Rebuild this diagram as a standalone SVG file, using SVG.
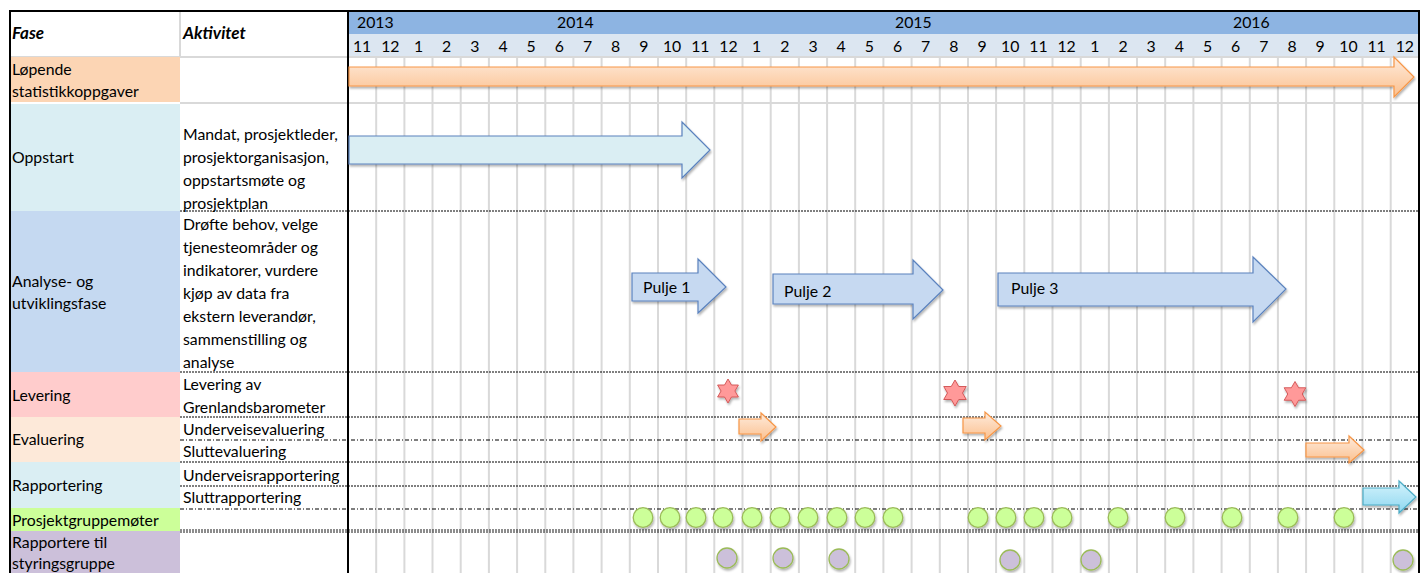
<svg xmlns="http://www.w3.org/2000/svg" width="1424" height="573" viewBox="0 0 1424 573">
<style>
text{font-family:Lato,"Open Sans","Liberation Sans",sans-serif;font-size:15.8px;fill:#000}
.hd{font-weight:bold;font-style:italic;font-size:17px}
.mo{text-anchor:middle}
.grid{stroke:#D9D9D9;stroke-width:2}
.dot{stroke:#000;stroke-width:1.2;stroke-dasharray:2 1;fill:none}
.dd{stroke:#000;stroke-width:1.2;stroke-dasharray:4 2 1 2;fill:none}
.dbl{stroke:#000;stroke-width:0.9;stroke-dasharray:2 1;fill:none}
.bord{stroke:#000;stroke-width:2;fill:none}
.big{fill:url(#gOr);stroke:#F79646;stroke-width:1.2}
.opp{fill:#DAEEF3;stroke:#5A82BE;stroke-width:1.2}
.pul{fill:#C6D9F1;stroke:#5A82BE;stroke-width:1.2}
.sor{fill:url(#gOr);stroke:#F79646;stroke-width:1.2}
.sbl{fill:url(#gBl);stroke:#4BACC6;stroke-width:1.2}
.star{fill:#FF9999;stroke:#D05050}
.gc{fill:#CCFF99;stroke:#9BBB59;stroke-width:1.3}
.pc{fill:#CCC0DA;stroke:#9BBB59;stroke-width:1.3}
</style>
<defs>
<linearGradient id="gOr" x1="0" y1="0" x2="0" y2="1">
<stop offset="0" stop-color="#FEEBDC"/><stop offset="1" stop-color="#FBC08E"/>
</linearGradient>
<linearGradient id="gBl" x1="0" y1="0" x2="0" y2="1">
<stop offset="0" stop-color="#D4F3FC"/><stop offset="1" stop-color="#8ED7F0"/>
</linearGradient>
<filter id="sh" x="-20%" y="-30%" width="140%" height="170%">
<feDropShadow dx="1" dy="2" stdDeviation="1.3" flood-color="#000" flood-opacity="0.3"/>
</filter>
<polygon id="star" points="0,-1 0.289,-0.5 0.866,-0.5 0.577,0 0.866,0.5 0.289,0.5 0,1 -0.289,0.5 -0.866,0.5 -0.577,0 -0.866,-0.5 -0.289,-0.5"/>
</defs>
<rect width="1424" height="573" fill="#fff"/>

<g id="header">
<rect x="348" y="11" width="1071" height="23" fill="#8DB4E2"/>
<rect x="348" y="34" width="1071" height="23" fill="#DCE6F1"/>
<line x1="180" y1="11" x2="180" y2="57" class="grid"/>
<line x1="10" y1="57" x2="1419" y2="57" class="grid"/>
<text x="12" y="39" class="hd">Fase</text>
<text x="183" y="39" class="hd">Aktivitet</text>
<text x="357" y="28">2013</text>
<text x="557" y="28">2014</text>
<text x="895" y="28">2015</text>
<text x="1233" y="28">2016</text>
<g>
<text x="362.1" y="52" class="mo">11</text><text x="390.3" y="52" class="mo">12</text>
<text x="418.5" y="52" class="mo">1</text><text x="446.6" y="52" class="mo">2</text><text x="474.8" y="52" class="mo">3</text><text x="503.0" y="52" class="mo">4</text><text x="531.2" y="52" class="mo">5</text><text x="559.4" y="52" class="mo">6</text><text x="587.5" y="52" class="mo">7</text><text x="615.7" y="52" class="mo">8</text><text x="643.9" y="52" class="mo">9</text><text x="672.1" y="52" class="mo">10</text><text x="700.3" y="52" class="mo">11</text><text x="728.4" y="52" class="mo">12</text>
<text x="756.6" y="52" class="mo">1</text><text x="784.8" y="52" class="mo">2</text><text x="813.0" y="52" class="mo">3</text><text x="841.2" y="52" class="mo">4</text><text x="869.3" y="52" class="mo">5</text><text x="897.5" y="52" class="mo">6</text><text x="925.7" y="52" class="mo">7</text><text x="953.9" y="52" class="mo">8</text><text x="982.1" y="52" class="mo">9</text><text x="1010.2" y="52" class="mo">10</text><text x="1038.4" y="52" class="mo">11</text><text x="1066.6" y="52" class="mo">12</text>
<text x="1094.8" y="52" class="mo">1</text><text x="1123.0" y="52" class="mo">2</text><text x="1151.1" y="52" class="mo">3</text><text x="1179.3" y="52" class="mo">4</text><text x="1207.5" y="52" class="mo">5</text><text x="1235.7" y="52" class="mo">6</text><text x="1263.9" y="52" class="mo">7</text><text x="1292.0" y="52" class="mo">8</text><text x="1320.2" y="52" class="mo">9</text><text x="1348.4" y="52" class="mo">10</text><text x="1376.6" y="52" class="mo">11</text><text x="1404.8" y="52" class="mo">12</text>
</g>
</g>

<g id="phase-fills">
<rect x="11" y="57" width="169" height="45" fill="#FCD5B4"/>
<rect x="11" y="104" width="169" height="107" fill="#DAEEF3"/>
<rect x="11" y="211" width="169" height="161" fill="#C5D9F1"/>
<rect x="11" y="372" width="169" height="45" fill="#FFCCCC"/>
<rect x="11" y="417" width="169" height="45" fill="#FDE9D9"/>
<rect x="11" y="462" width="169" height="46" fill="#DAEEF3"/>
<rect x="11" y="508" width="169" height="23" fill="#CCFF99"/>
<rect x="11" y="531" width="169" height="42" fill="#CCC0DA"/>
</g>

<g id="gridlines">
<line x1="376.2" y1="57" x2="376.2" y2="573" class="grid"/><line x1="404.4" y1="57" x2="404.4" y2="573" class="grid"/><line x1="432.5" y1="57" x2="432.5" y2="573" class="grid"/><line x1="460.7" y1="57" x2="460.7" y2="573" class="grid"/><line x1="488.9" y1="57" x2="488.9" y2="573" class="grid"/><line x1="517.1" y1="57" x2="517.1" y2="573" class="grid"/><line x1="545.3" y1="57" x2="545.3" y2="573" class="grid"/><line x1="573.4" y1="57" x2="573.4" y2="573" class="grid"/><line x1="601.6" y1="57" x2="601.6" y2="573" class="grid"/><line x1="629.8" y1="57" x2="629.8" y2="573" class="grid"/><line x1="658.0" y1="57" x2="658.0" y2="573" class="grid"/><line x1="686.2" y1="57" x2="686.2" y2="573" class="grid"/><line x1="714.3" y1="57" x2="714.3" y2="573" class="grid"/><line x1="742.5" y1="57" x2="742.5" y2="573" class="grid"/><line x1="770.7" y1="57" x2="770.7" y2="573" class="grid"/><line x1="798.9" y1="57" x2="798.9" y2="573" class="grid"/><line x1="827.1" y1="57" x2="827.1" y2="573" class="grid"/><line x1="855.2" y1="57" x2="855.2" y2="573" class="grid"/><line x1="883.4" y1="57" x2="883.4" y2="573" class="grid"/><line x1="911.6" y1="57" x2="911.6" y2="573" class="grid"/><line x1="939.8" y1="57" x2="939.8" y2="573" class="grid"/><line x1="968.0" y1="57" x2="968.0" y2="573" class="grid"/><line x1="996.1" y1="57" x2="996.1" y2="573" class="grid"/><line x1="1024.3" y1="57" x2="1024.3" y2="573" class="grid"/><line x1="1052.5" y1="57" x2="1052.5" y2="573" class="grid"/><line x1="1080.7" y1="57" x2="1080.7" y2="573" class="grid"/><line x1="1108.9" y1="57" x2="1108.9" y2="573" class="grid"/><line x1="1137.0" y1="57" x2="1137.0" y2="573" class="grid"/><line x1="1165.2" y1="57" x2="1165.2" y2="573" class="grid"/><line x1="1193.4" y1="57" x2="1193.4" y2="573" class="grid"/><line x1="1221.6" y1="57" x2="1221.6" y2="573" class="grid"/><line x1="1249.8" y1="57" x2="1249.8" y2="573" class="grid"/><line x1="1277.9" y1="57" x2="1277.9" y2="573" class="grid"/><line x1="1306.1" y1="57" x2="1306.1" y2="573" class="grid"/><line x1="1334.3" y1="57" x2="1334.3" y2="573" class="grid"/><line x1="1362.5" y1="57" x2="1362.5" y2="573" class="grid"/><line x1="1390.7" y1="57" x2="1390.7" y2="573" class="grid"/>
<line x1="180" y1="103" x2="1419" y2="103" class="grid"/>
<line x1="180" y1="211" x2="1419" y2="211" class="dot"/>
<line x1="180" y1="372" x2="1419" y2="372" class="dot"/>
<line x1="180" y1="417" x2="1419" y2="417" class="dot"/>
<line x1="180" y1="440" x2="1419" y2="440" class="dd"/>
<line x1="180" y1="462" x2="1419" y2="462" class="dot"/>
<line x1="180" y1="486" x2="1419" y2="486" class="dot"/>
<line x1="180" y1="509" x2="1419" y2="509" class="dd"/>
<line x1="180" y1="530" x2="1419" y2="530" class="dbl"/>
<line x1="180" y1="532" x2="1419" y2="532" class="dbl"/>
</g>

<g id="borders">
<line x1="10" y1="11" x2="1420" y2="11" class="bord"/>
<line x1="10" y1="10" x2="10" y2="573" class="bord"/>
<line x1="348" y1="11" x2="348" y2="573" class="bord"/>
<line x1="1419" y1="10" x2="1419" y2="573" class="bord"/>
</g>

<g id="labels">
<text x="12" y="75">Løpende</text><text x="12" y="97">statistikkoppgaver</text>
<text x="12" y="163">Oppstart</text>
<text x="183" y="140">Mandat, prosjektleder,</text><text x="183" y="163">prosjektorganisasjon,</text><text x="183" y="186">oppstartsmøte og</text><text x="183" y="209">prosjektplan</text>
<text x="12" y="287">Analyse- og</text><text x="12" y="309">utviklingsfase</text>
<text x="183" y="230">Drøfte behov, velge</text><text x="183" y="253">tjenesteområder og</text><text x="183" y="276">indikatorer, vurdere</text><text x="183" y="299">kjøp av data fra</text><text x="183" y="322">ekstern leverandør,</text><text x="183" y="345">sammenstilling og</text><text x="183" y="368">analyse</text>
<text x="12" y="401">Levering</text>
<text x="183" y="390">Levering av</text><text x="183" y="413">Grenlandsbarometer</text>
<text x="12" y="445">Evaluering</text>
<text x="183" y="435">Underveisevaluering</text><text x="183" y="457">Sluttevaluering</text>
<text x="12" y="491">Rapportering</text>
<text x="183" y="481">Underveisrapportering</text><text x="183" y="503">Sluttrapportering</text>
<text x="12" y="526">Prosjektgruppemøter</text>
<text x="12" y="548">Rapportere til</text><text x="12" y="569">styringsgruppe</text>
</g>

<g id="arrows">
<polygon id="lopende" class="big" filter="url(#sh)" points="349,67 1394,67 1394,57 1414,77 1394,97 1394,86 349,86"/>
<polygon id="oppstart" class="opp" filter="url(#sh)" points="349,136 682,136 682,122 710,150 682,178 682,164 349,164"/>
<g id="pulje1"><polygon class="pul" filter="url(#sh)" points="632,273 698,273 698,259 726,287 698,313 698,301 632,301"/><text x="643" y="293">Pulje 1</text></g>
<g id="pulje2"><polygon class="pul" filter="url(#sh)" points="773,274 913,274 913,260 943,290 913,319 913,304 773,304"/><text x="784" y="297">Pulje 2</text></g>
<g id="pulje3"><polygon class="pul" filter="url(#sh)" points="998,273 1253,273 1253,257 1286,289 1253,322 1253,306 998,306"/><text x="1011" y="294">Pulje 3</text></g>
<polygon id="underveis1" class="sor" filter="url(#sh)" points="739,419 761,419 761,413 776,427 761,441 761,434 739,434"/>
<polygon id="underveis2" class="sor" filter="url(#sh)" points="963,418 985,418 985,412 1001,426 985,440 985,433 963,433"/>
<polygon id="slutteval" class="sor" filter="url(#sh)" points="1306,443 1349,443 1349,436 1364,450 1349,463 1349,457 1306,457"/>
<polygon id="sluttrapp" class="sbl" filter="url(#sh)" points="1363,488 1399,488 1399,481 1416,497 1399,513 1399,505 1363,505"/>
</g>

<g id="stars" filter="url(#sh)">
<use href="#star" class="star" transform="translate(728,391) scale(12)" style="stroke-width:0.075"/>
<use href="#star" class="star" transform="translate(955,393) scale(13)" style="stroke-width:0.07"/>
<use href="#star" class="star" transform="translate(1295,394) scale(12.5)" style="stroke-width:0.072"/>
</g>

<g id="meetings" filter="url(#sh)">
<circle class="gc" cx="643" cy="517.5" r="9.8"/><circle class="gc" cx="670" cy="517.5" r="9.8"/><circle class="gc" cx="696" cy="517.5" r="9.8"/><circle class="gc" cx="723" cy="517.5" r="9.8"/><circle class="gc" cx="752" cy="517.5" r="9.8"/><circle class="gc" cx="780" cy="517.5" r="9.8"/><circle class="gc" cx="808" cy="517.5" r="9.8"/><circle class="gc" cx="837" cy="517.5" r="9.8"/><circle class="gc" cx="865" cy="517.5" r="9.8"/><circle class="gc" cx="893" cy="517.5" r="9.8"/>
<circle class="gc" cx="978" cy="517.5" r="9.8"/><circle class="gc" cx="1006" cy="517.5" r="9.8"/><circle class="gc" cx="1034" cy="517.5" r="9.8"/><circle class="gc" cx="1062" cy="517.5" r="9.8"/>
<circle class="gc" cx="1118" cy="517.5" r="9.8"/><circle class="gc" cx="1175" cy="517.5" r="9.8"/><circle class="gc" cx="1232" cy="517.5" r="9.8"/><circle class="gc" cx="1288" cy="517.5" r="9.8"/><circle class="gc" cx="1344" cy="517.5" r="9.8"/>
</g>

<g id="steering" filter="url(#sh)">
<circle class="pc" cx="727" cy="558" r="10"/><circle class="pc" cx="783" cy="558" r="10"/><circle class="pc" cx="839" cy="559" r="10"/><circle class="pc" cx="1010" cy="560" r="10"/><circle class="pc" cx="1091" cy="560" r="10"/><circle class="pc" cx="1403" cy="560" r="10"/>
</g>
</svg>
